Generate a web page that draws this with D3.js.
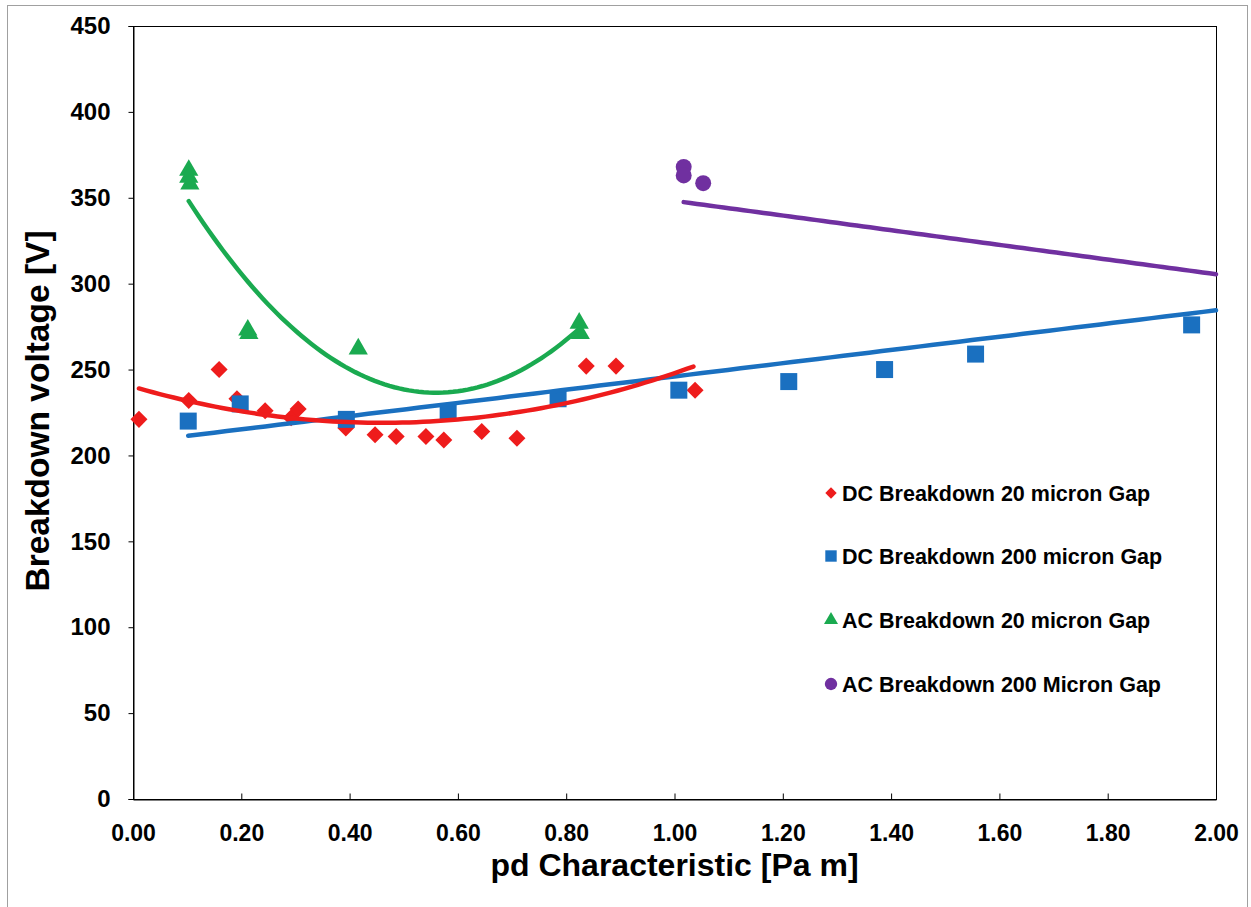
<!DOCTYPE html>
<html>
<head>
<meta charset="utf-8">
<script src="https://cdn.jsdelivr.net/npm/d3@7"></script>
<style>
  html, body { margin: 0; padding: 0; background: #fff; }
  svg { display: block; }
  text { font-family: "Liberation Sans", Arial, sans-serif; font-weight: bold; fill: #000; }
</style>
</head>
<body>
<svg id="chart" width="1251" height="907"></svg>
<script>
// Measured breakdown voltages, [pd (Pa m), voltage (V)]
const dc20 = [
  [0.011, 221], [0.103, 232], [0.159, 250], [0.192, 233], [0.244, 226],
  [0.292, 222], [0.305, 227], [0.393, 216], [0.447, 212], [0.486, 211],
  [0.541, 211], [0.574, 209], [0.644, 214], [0.709, 210], [0.837, 252],
  [0.892, 252], [1.038, 238]
];
const dc200 = [
  [0.102, 220], [0.198, 230], [0.394, 221], [0.582, 225], [0.785, 233],
  [1.008, 238], [1.211, 243], [1.388, 250], [1.556, 259], [1.955, 276]
];
const ac20 = [
  [0.103, 366], [0.103, 362], [0.105, 358], [0.212, 273], [0.214, 271],
  [0.416, 262], [0.824, 277], [0.826, 271]
];
const ac200 = [
  [1.017, 368], [1.017, 363], [1.053, 358.5]
];

// Trend lines: polynomial coefficients [c0, c1, c2] and the pd range covered
const trendDc20  = { coef: [240.0, -91.3, 99.2],   range: [0.011, 1.035] };
const trendDc200 = { coef: [207.5, 38.5, 0],       range: [0.102, 2.0] };
const trendAc20  = { coef: [404.0, -598.1, 534.0], range: [0.103, 0.826] };
const trendAc200 = { coef: [390.9, -42.7, 0],      range: [1.017, 2.0] };

const seriesNames = [
  "DC Breakdown 20 micron Gap",
  "DC Breakdown 200 micron Gap",
  "AC Breakdown 20 micron Gap",
  "AC Breakdown 200 Micron Gap"
];
const seriesColors = ["#ee1c1c", "#1a70c0", "#1aaa50", "#7030a0"];

const xTicks = [0, 0.2, 0.4, 0.6, 0.8, 1.0, 1.2, 1.4, 1.6, 1.8, 2.0];
const yTicks = [0, 50, 100, 150, 200, 250, 300, 350, 400, 450];

const svg = d3.select("#chart");
const plot = { left: 133, right: 1216, top: 26, bottom: 799 };

const x = d3.scaleLinear().domain([0, 2]).range([plot.left, plot.right]);
const y = d3.scaleLinear().domain([0, 450]).range([plot.bottom, plot.top]);

// outer chart frame
svg.append("rect")
  .attr("x", 7.5).attr("y", 5.5).attr("width", 1240).attr("height", 905)
  .attr("fill", "none").attr("stroke", "#a0a0a0").attr("stroke-width", 1);

// plot area frame
svg.append("rect")
  .attr("x", plot.left + 0.5).attr("y", plot.top + 0.5)
  .attr("width", plot.right - plot.left).attr("height", plot.bottom - plot.top)
  .attr("fill", "none").attr("stroke", "#000").attr("stroke-width", 1);

// y axis (outside ticks)
const yAxis = svg.append("g")
  .attr("transform", `translate(${plot.left + 0.5},0)`)
  .call(d3.axisLeft(y).tickValues(yTicks).tickSize(5).tickPadding(18).tickFormat(d3.format("d")));
yAxis.select(".domain").attr("stroke", "#000");
yAxis.selectAll(".tick line").attr("stroke", "#000");
yAxis.selectAll(".tick text")
  .style("font-size", "24px").style("font-family", "'Liberation Sans', Arial, sans-serif")
  .style("font-weight", "bold").attr("fill", "#000");

// x axis (inside ticks)
const xAxis = svg.append("g")
  .attr("transform", `translate(0,${plot.bottom + 0.5})`)
  .call(d3.axisBottom(x).tickValues(xTicks).tickSize(-6).tickPadding(25).tickFormat(d3.format(".2f")));
xAxis.select(".domain").attr("stroke", "#000");
xAxis.selectAll(".tick line").attr("stroke", "#000");
xAxis.selectAll(".tick text")
  .style("font-size", "23px").style("font-family", "'Liberation Sans', Arial, sans-serif")
  .style("font-weight", "bold").attr("fill", "#000");

// axis titles
svg.append("text")
  .attr("x", (plot.left + plot.right) / 2).attr("y", 876)
  .attr("text-anchor", "middle").style("font-size", "32px")
  .text("pd Characteristic [Pa m]");
svg.append("text")
  .attr("transform", `translate(49,411) rotate(-90)`)
  .attr("text-anchor", "middle").style("font-size", "33.5px")
  .text("Breakdown voltage [V]");

// marker shapes
const shapes = [
  { type: d3.symbolSquare,   size: 145, rotate: 45 },  // diamond
  { type: d3.symbolSquare,   size: 289, rotate: 0 },   // square
  { type: d3.symbolTriangle, size: 160, rotate: 0 },   // triangle
  { type: d3.symbolCircle,   size: 200, rotate: 0 }    // circle
];

const allSeries = [dc20, dc200, ac20, ac200];

const markers = svg.append("g");
allSeries.forEach((data, i) => {
  const s = shapes[i];
  markers.append("g").selectAll("path")
    .data(data)
    .join("path")
    .attr("d", d3.symbol().type(s.type).size(s.size))
    .attr("transform", d => `translate(${x(d[0])},${y(d[1])}) rotate(${s.rotate})`)
    .attr("fill", seriesColors[i]);
});

// trend lines drawn through the scales
function trendPoints(t) {
  const [a, b] = t.range;
  const n = 80;
  return d3.range(n + 1).map(k => {
    const px = a + (b - a) * k / n;
    const v = t.coef[0] + t.coef[1] * px + t.coef[2] * px * px;
    return [px, v];
  });
}
const line = d3.line().x(d => x(d[0])).y(d => y(d[1])).curve(d3.curveLinear);
const trends = [
  { t: trendDc200, c: seriesColors[1] },
  { t: trendAc200, c: seriesColors[3] },
  { t: trendDc20,  c: seriesColors[0] },
  { t: trendAc20,  c: seriesColors[2] }
];
trends.forEach(tr => {
  svg.append("path")
    .datum(trendPoints(tr.t))
    .attr("d", line)
    .attr("fill", "none")
    .attr("stroke", tr.c)
    .attr("stroke-width", 4.5)
    .attr("stroke-linecap", "round");
});

// legend
const legendY = [493, 556, 620, 684];
const legendShapes = [
  { type: d3.symbolSquare,   size: 65,  rotate: 45 },
  { type: d3.symbolSquare,   size: 130, rotate: 0 },
  { type: d3.symbolTriangle, size: 85,  rotate: 0 },
  { type: d3.symbolCircle,   size: 120, rotate: 0 }
];
const legend = svg.append("g");
seriesNames.forEach((name, i) => {
  const s = legendShapes[i];
  legend.append("path")
    .attr("d", d3.symbol().type(s.type).size(s.size))
    .attr("transform", `translate(831,${legendY[i]}) rotate(${s.rotate})`)
    .attr("fill", seriesColors[i]);
  legend.append("text")
    .attr("x", 842).attr("y", legendY[i])
    .attr("dy", "0.36em")
    .style("font-size", "21.5px")
    .text(name);
});
</script>
</body>
</html>
